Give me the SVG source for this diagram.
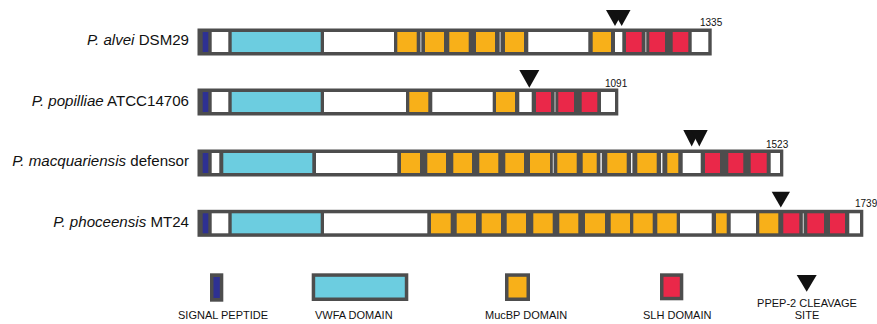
<svg xmlns="http://www.w3.org/2000/svg" width="877" height="324" viewBox="0 0 877 324">
<style>
.bar{fill:#4d4d4d}
.w{fill:#ffffff}
.sp{fill:#2e3192}
.vw{fill:#6ccde0}
.mu{fill:#f8b019}
.sl{fill:#ea2849}
.sg{fill:#b8b8b8}
.sw{fill:#f4f4f4}
.tri{fill:#111111}
.lbl{font-family:"Liberation Sans",Arial,sans-serif;font-size:15.1px;fill:#111;text-anchor:end}
.num{font-family:"Liberation Sans",Arial,sans-serif;font-size:10px;fill:#111}
.leg{font-family:"Liberation Sans",Arial,sans-serif;font-size:11px;fill:#111}
</style>
<rect width="877" height="324" fill="#ffffff"/>

<g id="row-alvei">
<text class="lbl" x="189" y="45"><tspan font-style="italic">P. alvei</tspan> DSM29</text>
<g transform="translate(0,32)">
<rect class="bar" x="197.5" y="-3.5" width="514.2" height="27"/>
<rect class="sp" x="202.7" y="0" width="5.6" height="20"/>
<rect class="w" x="211.7" y="0" width="16.6" height="20"/>
<rect class="vw" x="231.7" y="0" width="89" height="20"/>
<rect class="w" x="324" y="0" width="70" height="20"/>
<rect class="mu" x="397.3" y="0" width="19.4" height="20"/>
<rect class="sg" x="420.2" y="0" width="1.3" height="20"/>
<rect class="mu" x="425" y="0" width="19" height="20"/>
<rect class="mu" x="449.3" y="0" width="19.4" height="20"/>
<rect class="mu" x="476" y="0" width="19" height="20"/>
<rect class="sg" x="499.5" y="0" width="1.3" height="20"/>
<rect class="mu" x="505" y="0" width="19" height="20"/>
<rect class="w" x="528.3" y="0" width="60" height="20"/>
<rect class="mu" x="592.7" y="0" width="18.3" height="20"/>
<rect class="w" x="615" y="0" width="7.3" height="20"/>
<rect class="sl" x="626" y="0" width="15.7" height="20"/>
<rect class="sg" x="645.2" y="0" width="1.2" height="20"/>
<rect class="sl" x="649.3" y="0" width="15.7" height="20"/>
<rect class="sl" x="672.7" y="0" width="15.6" height="20"/>
<rect class="w" x="691.7" y="0" width="16.6" height="20"/>
</g>
<polygon class="tri" points="606,10 624,10 615,26"/>
<polygon class="tri" points="612.7,10 630.5,10 621.7,26"/>
<text class="num" x="700" y="26">1335</text>
</g>

<g id="row-popilliae">
<text class="lbl" x="189" y="106"><tspan font-style="italic">P. popilliae</tspan> ATCC14706</text>
<g transform="translate(0,92)">
<rect class="bar" x="197.5" y="-3.5" width="420.8" height="27"/>
<rect class="sp" x="202.7" y="0" width="5.6" height="20"/>
<rect class="w" x="211.7" y="0" width="16.6" height="20"/>
<rect class="vw" x="231.7" y="0" width="89" height="20"/>
<rect class="w" x="324" y="0" width="82" height="20"/>
<rect class="mu" x="409.3" y="0" width="19" height="20"/>
<rect class="w" x="432.3" y="0" width="60.4" height="20"/>
<rect class="mu" x="496" y="0" width="19" height="20"/>
<rect class="w" x="519.3" y="0" width="12.4" height="20"/>
<rect class="sl" x="536" y="0" width="15" height="20"/>
<rect class="sg" x="554.4" y="0" width="1.2" height="20"/>
<rect class="sl" x="558.3" y="0" width="15.7" height="20"/>
<rect class="sl" x="581.7" y="0" width="15.6" height="20"/>
<rect class="w" x="601" y="0" width="14" height="20"/>
</g>
<polygon class="tri" points="519.3,70 539.3,70 529.3,87.7"/>
<text class="num" x="605" y="86.5">1091</text>
</g>

<g id="row-macquariensis">
<text class="lbl" x="189" y="165.5"><tspan font-style="italic">P. macquariensis</tspan> defensor</text>
<g transform="translate(0,153)">
<rect class="bar" x="197.5" y="-3.5" width="585.8" height="27"/>
<rect class="sp" x="202.7" y="0" width="5.6" height="20"/>
<rect class="w" x="211.7" y="0" width="7.6" height="20"/>
<rect class="vw" x="223.3" y="0" width="89" height="20"/>
<rect class="w" x="316" y="0" width="81.3" height="20"/>
<rect class="mu" x="401" y="0" width="19" height="20"/>
<rect class="mu" x="427.3" y="0" width="18.7" height="20"/>
<rect class="mu" x="453.3" y="0" width="18.7" height="20"/>
<rect class="mu" x="479.3" y="0" width="19" height="20"/>
<rect class="mu" x="505.3" y="0" width="18.7" height="20"/>
<rect class="mu" x="530" y="0" width="20" height="20"/>
<rect class="sg" x="552.7" y="0" width="1.3" height="20"/>
<rect class="mu" x="557.3" y="0" width="19.4" height="20"/>
<rect class="mu" x="582.7" y="0" width="14" height="20"/>
<rect class="sw" x="600.4" y="0" width="1.4" height="20"/>
<rect class="mu" x="607.3" y="0" width="19.4" height="20"/>
<rect class="sw" x="631" y="0" width="1.4" height="20"/>
<rect class="mu" x="637.3" y="0" width="19.4" height="20"/>
<rect class="sw" x="661" y="0" width="1.4" height="20"/>
<rect class="mu" x="667.3" y="0" width="11" height="20"/>
<rect class="w" x="682.7" y="0" width="18" height="20"/>
<rect class="sl" x="705" y="0" width="15" height="20"/>
<rect class="sl" x="728.3" y="0" width="15" height="20"/>
<rect class="sl" x="750.7" y="0" width="16" height="20"/>
<rect class="w" x="770.7" y="0" width="9.3" height="20"/>
</g>
<polygon class="tri" points="683.3,130 700,130 691.7,146.5"/>
<polygon class="tri" points="691,130 707.7,130 699.3,146.5"/>
<text class="num" x="766" y="147.5">1523</text>
</g>

<g id="row-phoceensis">
<text class="lbl" x="189" y="226.5"><tspan font-style="italic">P. phoceensis</tspan> MT24</text>
<g transform="translate(0,213.3)">
<rect class="bar" x="197.5" y="-3.5" width="665.8" height="27"/>
<rect class="sp" x="202.7" y="0" width="5.6" height="20"/>
<rect class="w" x="211.7" y="0" width="16.6" height="20"/>
<rect class="vw" x="231.7" y="0" width="89" height="20"/>
<rect class="w" x="324" y="0" width="103.3" height="20"/>
<rect class="mu" x="431" y="0" width="19.7" height="20"/>
<rect class="mu" x="456.7" y="0" width="19.3" height="20"/>
<rect class="mu" x="481.7" y="0" width="19.3" height="20"/>
<rect class="mu" x="506.7" y="0" width="19.3" height="20"/>
<rect class="mu" x="533.3" y="0" width="19.4" height="20"/>
<rect class="mu" x="559.3" y="0" width="19" height="20"/>
<rect class="mu" x="585" y="0" width="20" height="20"/>
<rect class="mu" x="610.7" y="0" width="19.3" height="20"/>
<rect class="mu" x="633.3" y="0" width="19.4" height="20"/>
<rect class="mu" x="657.3" y="0" width="19.4" height="20"/>
<rect class="w" x="680" y="0" width="31.7" height="20"/>
<rect class="mu" x="716" y="0" width="10.7" height="20"/>
<rect class="w" x="730.7" y="0" width="25.3" height="20"/>
<rect class="mu" x="759.3" y="0" width="19" height="20"/>
<rect class="sl" x="783.3" y="0" width="16" height="20"/>
<rect class="sg" x="802.7" y="0" width="1.3" height="20"/>
<rect class="sl" x="807.3" y="0" width="16.7" height="20"/>
<rect class="sl" x="830" y="0" width="15" height="20"/>
<rect class="w" x="849.3" y="0" width="10.7" height="20"/>
</g>
<polygon class="tri" points="771.7,191.7 790,191.7 780.8,207.5"/>
<text class="num" x="855" y="206.5">1739</text>
</g>

<g id="legend-signal">
<rect class="bar" x="210" y="273.3" width="13.3" height="28.4"/>
<rect class="sp" x="213.5" y="277" width="6.3" height="21"/>
<text class="leg" x="178" y="319">SIGNAL PEPTIDE</text>
</g>
<g id="legend-vwfa">
<rect class="bar" x="311.7" y="273.3" width="96.6" height="27.7"/>
<rect class="vw" x="315.2" y="276.8" width="89.6" height="20.7"/>
<text class="leg" x="315" y="319">VWFA DOMAIN</text>
</g>
<g id="legend-mucbp">
<rect class="bar" x="505" y="273.3" width="25" height="27.7"/>
<rect class="mu" x="508.5" y="276.8" width="18" height="20.7"/>
<text class="leg" x="485" y="319">MucBP DOMAIN</text>
</g>
<g id="legend-slh">
<rect class="bar" x="660" y="273.3" width="23.3" height="27"/>
<rect class="sl" x="663.5" y="276.8" width="16.3" height="20"/>
<text class="leg" x="643" y="319">SLH DOMAIN</text>
</g>
<g id="legend-ppep">
<polygon class="tri" points="796.7,275 816.7,275 806.7,291.7"/>
<text class="leg" x="807" y="306.5" text-anchor="middle">PPEP-2 CLEAVAGE</text>
<text class="leg" x="807" y="318.5" text-anchor="middle">SITE</text>
</g>
</svg>
